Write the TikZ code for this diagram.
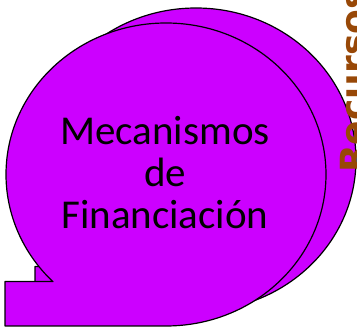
\documentclass[tikz,border=0pt]{standalone}
\usepackage{fontspec}
\setmainfont{Carlito}
\newfontfamily\sidefont{DejaVu Sans}
\definecolor{blobfill}{RGB}{204,0,255}
\definecolor{sidebrown}{RGB}{152,72,7}
\tikzset{
  blob/.style={fill=blobfill, draw=black, line width=1.2pt, line join=round},
  maintext/.style={align=center, inner sep=0pt, font=\fontsize{41}{42}\selectfont},
  sidetext/.style={rotate=90, anchor=base west, inner sep=0pt, text=sidebrown, font=\sidefont\bfseries\fontsize{36}{40}\selectfont}
}
\begin{document}
\begin{tikzpicture}[x=1pt,y=1pt]
\useasboundingbox (0,0) rectangle (357,332);
\clip (0,0) rectangle (357,332);
% back shape
\begin{scope}[shift={(30,15)}]
\path[blob] (53,50.4) -- (5,50.4) -- (5,6) -- (166,6)
  arc[start angle=270, end angle=585, x radius=160pt, y radius=151.5pt] -- cycle;
\end{scope}
% front shape
\path[blob] (53,50.4) -- (5,50.4) -- (5,6) -- (166,6)
  arc[start angle=270, end angle=585, x radius=160pt, y radius=151.5pt] -- cycle;
\node[maintext] (main) at (165,159) {Mecanismos\\de\\Financiación};
\node[sidetext] (side) at (366,159) {Recursos};
\end{tikzpicture}
\end{document}
